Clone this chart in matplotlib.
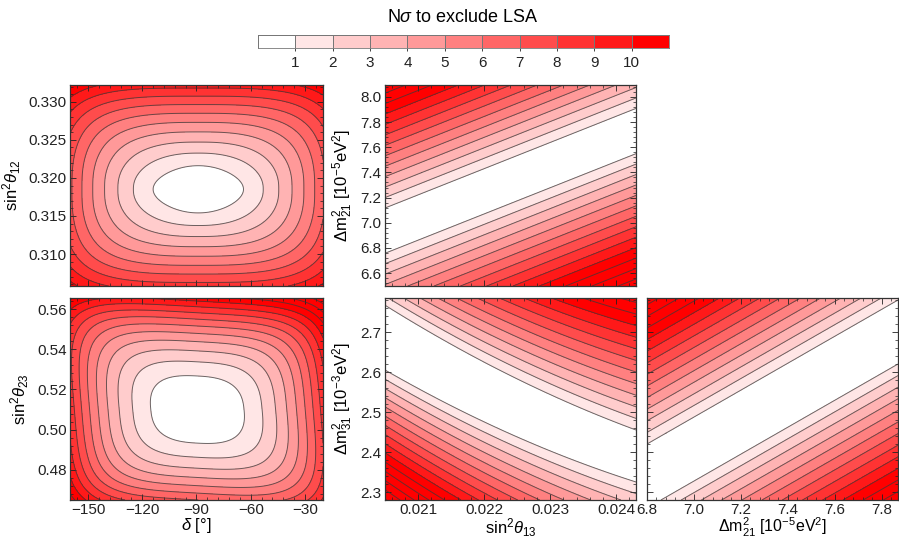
import numpy as np
import matplotlib
matplotlib.use("Agg")
import matplotlib.pyplot as plt
from matplotlib.colors import ListedColormap, BoundaryNorm
from matplotlib.ticker import AutoMinorLocator, FormatStrFormatter

plt.rcParams["font.family"] = ["Liberation Sans", "DejaVu Sans"]
plt.rcParams["mathtext.fontset"] = "custom"
plt.rcParams["mathtext.rm"] = "Liberation Sans"
plt.rcParams["mathtext.it"] = "Liberation Sans:italic"
plt.rcParams["mathtext.bf"] = "Liberation Sans:bold"

# axis ranges
delta_range = [-160, -20]
s12_range = [0.3058, 0.3322]
s23_range = [0.465, 0.5655]
s13_range = [0.0205, 0.0243]
dm21_range = [6.497, 8.095]
dm21_range_x = [6.8, 7.87]
dm31_range = [2.28, 2.785]

# ticks
delta_ticks = [-150, -120, -90, -60, -30]
delta_labels = ["\u2212150", "\u2212120", "\u221290", "\u221260", "\u221230"]
s12_ticks = [0.310, 0.315, 0.320, 0.325, 0.330]
s23_ticks = [0.48, 0.50, 0.52, 0.54, 0.56]
s13_ticks = [0.021, 0.022, 0.023, 0.024]
dm21_ticks = [6.6, 6.8, 7.0, 7.2, 7.4, 7.6, 7.8, 8.0]
dm21_ticks_x = [6.8, 7.0, 7.2, 7.4, 7.6, 7.8]
dm31_ticks = [2.3, 2.4, 2.5, 2.6, 2.7]

# closed regions: centre, 1 sigma half widths, growth exponents, squareness, tilt
blob_12 = dict(centre=(-89.0, 0.3185), width=(25.0, 0.0031), q=(1.85, 1.37), p=(2.0, 1.0), tilt=0.0)
blob_23 = dict(centre=(-89.5, 0.510), width=(25.8, 0.0167), q=(2.2, 1.95), p=(2.6, 0.8), tilt=0.15)

# open bands: centre line (mid, slope, bow), half width, spacing per sigma
band_13_21 = dict(line=(7.333, 0.396, 0.0), half=(0.18, 0.0), step=(0.083, 0.0))
band_13_31 = dict(line=(2.518, -0.148, 0.02), half=(0.073, -0.008), step=(0.026, 0.003))
band_21_31 = dict(line=(2.520, 0.180, 0.0), half=(0.080, 0.0), step=(0.029, 0.0))

n_levels = np.arange(0, 12)
line_levels = np.arange(1, 21)
shades = np.linspace(0, 1, 11)
colors = [(1.0, 1.0 - s, 1.0 - s) for s in shades]
cmap = ListedColormap(colors)
norm = BoundaryNorm(n_levels, cmap.N)


def growth(u, q):
    # quadratic near the centre, |u|**q further out, equal to 1 at |u| = 1
    return u**2 * ((1 + u**2) / 2) ** ((q - 2) / 2)


def blob_field(xr, yr, centre, width, q, p, tilt, n=400):
    x = np.linspace(xr[0], xr[1], n)
    y = np.linspace(yr[0], yr[1], n)
    X, Y = np.meshgrid(x, y)
    u = (X - centre[0]) / width[0]
    v = (Y - centre[1]) / width[1]
    U = np.sqrt(growth(u, q[0]))
    V = np.sqrt(growth(v, q[1]))
    R = np.sqrt(U**2 + V**2)
    pw = p[0] + p[1] * np.clip(R - 1, 0, None)
    N = (U**pw + V**pw) ** (2 / pw) + tilt * u * v
    return X, Y, N


def band_field(xr, yr, line, half, step, n=400):
    x = np.linspace(xr[0], xr[1], n)
    y = np.linspace(yr[0], yr[1], n)
    X, Y = np.meshgrid(x, y)
    t = (X - 0.5 * (xr[0] + xr[1])) / (0.5 * (xr[1] - xr[0]))
    c = line[0] + line[1] * t + line[2] * t**2
    hw = half[0] + half[1] * t
    s = step[0] + step[1] * t
    N = 1 + (np.abs(Y - c) - hw) / s
    return X, Y, N


def draw(ax, X, Y, N):
    ax.contourf(X, Y, np.clip(N, 0, 10.99), levels=n_levels, cmap=cmap, norm=norm)
    ax.contour(X, Y, N, levels=line_levels, colors="#3a3a3a", linewidths=0.7, alpha=0.75)
    ax.tick_params(which="both", direction="in", top=True, right=True,
                   labelsize=11, colors="#222222", pad=2.5)
    ax.tick_params(which="major", length=4, width=0.6)
    ax.tick_params(which="minor", length=2, width=0.5)
    ax.xaxis.set_minor_locator(AutoMinorLocator(5))
    ax.yaxis.set_minor_locator(AutoMinorLocator(5))
    for sp in ax.spines.values():
        sp.set_color("#333333")
        sp.set_linewidth(0.9)


fig = plt.figure(figsize=(8.99, 5.39), dpi=100)
W, H = 899, 539


def place(l, t, r, b):
    return fig.add_axes([l / W, 1 - b / H, (r - l) / W, (b - t) / H])


ax_a = place(70, 85, 323, 286)
ax_b = place(385, 85, 636, 286)
ax_c = place(70, 298, 323, 500)
ax_d = place(385, 298, 636, 500)
ax_e = place(647, 298, 898, 500)

draw(ax_a, *blob_field(delta_range, s12_range, **blob_12))
draw(ax_c, *blob_field(delta_range, s23_range, **blob_23))
draw(ax_b, *band_field(s13_range, dm21_range, **band_13_21))
draw(ax_d, *band_field(s13_range, dm31_range, **band_13_31))
draw(ax_e, *band_field(dm21_range_x, dm31_range, **band_21_31))

lab = dict(fontsize=12)
for ax in (ax_a, ax_c):
    ax.set_xlim(delta_range)
    ax.set_xticks(delta_ticks)
ax_a.set_ylim(s12_range)
ax_a.set_yticks(s12_ticks)
ax_a.yaxis.set_major_formatter(FormatStrFormatter("%.3f"))
ax_a.tick_params(labelbottom=False)
ax_a.set_ylabel(r"sin$^2\theta_{12}$", **lab)

ax_c.set_ylim(s23_range)
ax_c.set_yticks(s23_ticks)
ax_c.yaxis.set_major_formatter(FormatStrFormatter("%.2f"))
ax_c.set_ylabel(r"sin$^2\theta_{23}$", **lab)
ax_c.set_xlabel(r"$\delta$ [°]", **lab)
ax_c.set_xticklabels(delta_labels)

for ax in (ax_b, ax_d):
    ax.set_xlim(s13_range)
    ax.set_xticks(s13_ticks)
    ax.xaxis.set_major_formatter(FormatStrFormatter("%.3f"))
ax_b.set_ylim(dm21_range)
ax_b.set_yticks(dm21_ticks)
ax_b.yaxis.set_major_formatter(FormatStrFormatter("%.1f"))
ax_b.tick_params(labelbottom=False)
ax_b.set_ylabel(r"$\Delta$m$^2_{21}$ [10$^{-5}$eV$^2$]", **lab)

ax_d.set_ylim(dm31_range)
ax_d.set_yticks(dm31_ticks)
ax_d.yaxis.set_major_formatter(FormatStrFormatter("%.1f"))
ax_d.set_ylabel(r"$\Delta$m$^2_{31}$ [10$^{-3}$eV$^2$]", **lab)
ax_d.set_xlabel(r"sin$^2\theta_{13}$", **lab)

ax_e.set_xlim(dm21_range_x)
ax_e.set_xticks(dm21_ticks_x)
ax_e.xaxis.set_major_formatter(FormatStrFormatter("%.1f"))
ax_e.set_ylim(dm31_range)
ax_e.set_yticks(dm31_ticks)
ax_e.tick_params(labelleft=False)
ax_e.set_xlabel(r"$\Delta$m$^2_{21}$ [10$^{-5}$eV$^2$]", fontsize=11.5)

# x labels sit just under the tick labels
for ax in (ax_c, ax_d, ax_e):
    ax.xaxis.set_label_coords(0.5, -0.08)

# colour key
ax_k = place(258, 35, 669, 48)
ax_k.pcolormesh(n_levels, [0, 1], np.arange(11)[None, :], cmap=cmap, norm=norm,
                edgecolors="#777777", linewidth=0.6)
ax_k.set_xlim(0, 11)
ax_k.set_ylim(0, 1)
ax_k.set_yticks([])
ax_k.set_xticks(np.arange(1, 11))
ax_k.tick_params(axis="x", direction="out", length=2, width=0.6, labelsize=11,
                 colors="#222222", pad=4)
for sp in ax_k.spines.values():
    sp.set_color("#777777")
    sp.set_linewidth(0.6)
fig.text(463 / W, 1 - 17 / H, r"N$\sigma$ to exclude LSA", ha="center", va="center",
         fontsize=13)

fig.savefig("out.png", dpi=100)
